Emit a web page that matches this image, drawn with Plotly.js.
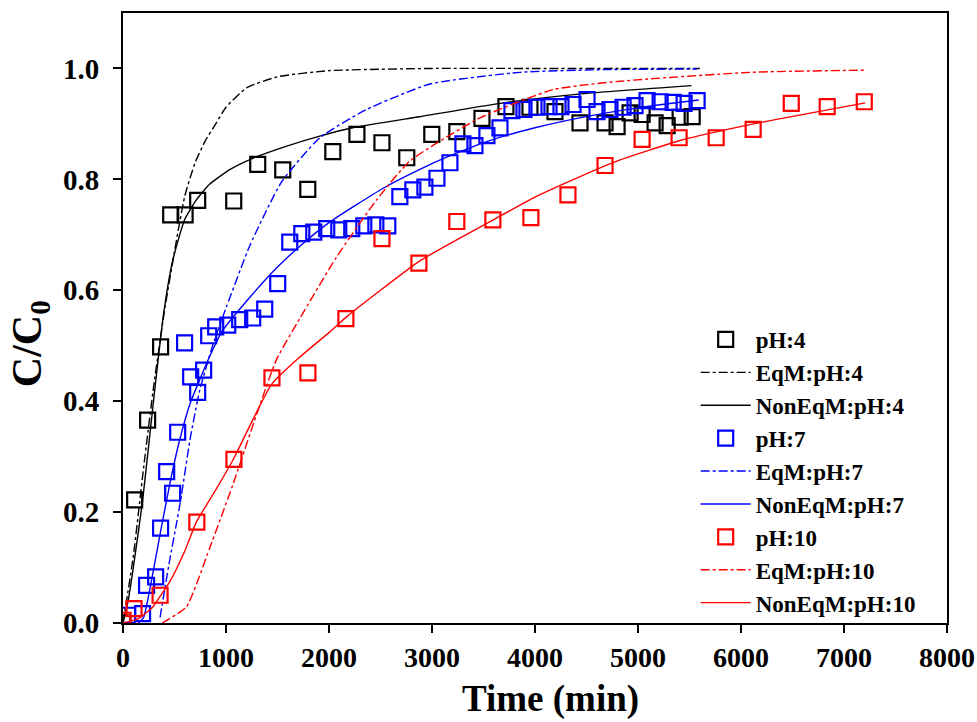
<!DOCTYPE html>
<html>
<head>
<meta charset="utf-8">
<script src="https://cdn.plot.ly/plotly-3.0.1.min.js"></script>
<style>html,body{margin:0;padding:0;background:#fff;}#chart{width:977px;height:722px;}</style>
</head>
<body>
<div id="chart"></div>
<script>
// Experimental data pH 4
const pH4_t = [0,113,239,365,463,603,725,1075,1308,1551,1794,2037,2271,2514,2755,2998,3241,3485,3718,3951,4194,4437,4680,4797,4923,5040,5166,5283,5409,5526];
const pH4_c = [0.0,0.222,0.366,0.498,0.736,0.736,0.762,0.761,0.827,0.817,0.782,0.850,0.881,0.866,0.839,0.881,0.886,0.910,0.931,0.930,0.922,0.902,0.902,0.895,0.920,0.917,0.902,0.897,0.912,0.913];
// Experimental data pH 7
const pH7_t = [45,190,229,317,365,424,482,531,598,657,725,783,832,900,1017,1133,1259,1376,1502,1619,1736,1852,1978,2095,2221,2338,2455,2571,2688,2814,2931,3048,3174,3300,3417,3533,3660,3776,3893,4019,4136,4252,4369,4505,4602,4728,4855,4971,5088,5215,5341,5448,5574];
const pH7_c = [0.014,0.017,0.068,0.083,0.171,0.273,0.234,0.344,0.505,0.444,0.416,0.456,0.518,0.534,0.537,0.547,0.550,0.566,0.612,0.687,0.702,0.705,0.711,0.709,0.711,0.716,0.718,0.716,0.769,0.781,0.786,0.802,0.830,0.864,0.861,0.879,0.893,0.924,0.926,0.930,0.931,0.931,0.935,0.944,0.922,0.926,0.930,0.933,0.942,0.940,0.939,0.937,0.942];
// Experimental data pH 10
const pH10_t = [0,107,360,717,1077,1446,1795,2164,2514,2873,3241,3591,3960,4320,4680,5040,5399,5759,6118,6488,6837,7197];
const pH10_c = [0.005,0.026,0.050,0.182,0.295,0.442,0.451,0.549,0.693,0.649,0.724,0.727,0.731,0.772,0.825,0.872,0.875,0.875,0.890,0.937,0.931,0.940];

// Model curves
const eq4_t = [0,100,200,300,400,500,600,700,800,900,1000,1200,1500,2000,3000,4000,5600];
const eq4_c = [0.0,0.12,0.28,0.43,0.56,0.67,0.77,0.83,0.87,0.90,0.93,0.965,0.985,0.996,1.0,1.0,1.0];
const neq4_t = [0,50,100,190,290,390,470,520,600,712,840,1040,1260,1590,1910,2230,2880,3660,4500,5520];
const neq4_c = [0.0,0.04,0.10,0.22,0.39,0.552,0.643,0.68,0.728,0.763,0.791,0.818,0.838,0.860,0.878,0.893,0.913,0.937,0.955,0.969];

const eq7_t = [360,450,520,567,650,745,870,1004,1230,1538,1911,2364,2980,3853,4700,5572];
const eq7_c = [0.01,0.11,0.18,0.23,0.33,0.42,0.50,0.57,0.68,0.795,0.875,0.926,0.972,0.993,0.998,0.999];
const neq7_t = [150,200,290,370,470,550,650,840,970,1230,1490,1720,2000,2526,2882,3142,3560,4000,4520,5000,5590];
const neq7_c = [0.0,0.01,0.09,0.17,0.265,0.33,0.395,0.48,0.528,0.587,0.64,0.68,0.722,0.784,0.818,0.840,0.870,0.893,0.914,0.929,0.943];

const eq10_t = [380,615,841,1068,1295,1490,1719,2073,2462,2785,3466,4178,4826,6089,7207];
const eq10_c = [0.0,0.029,0.135,0.25,0.375,0.475,0.55,0.66,0.763,0.833,0.911,0.962,0.977,0.993,0.997];
const neq10_t = [0,150,290,360,453,600,712,900,1068,1441,1719,2008,2170,2882,3595,4000,4438,4826,5409,6122,7207];
const neq10_c = [0.0,0.008,0.029,0.048,0.074,0.13,0.182,0.24,0.294,0.43,0.48,0.525,0.552,0.653,0.727,0.768,0.805,0.835,0.870,0.900,0.938];

const xTitle = 'Time (min)';
const yTitle = 'C/C<sub>0</sub>';

const BLACK = '#000000', BLUE = '#0000FF', RED = '#FF0000';
function pts(name, x, y, col, g) {
  return {x: x, y: y, name: name, type: 'scatter', mode: 'markers', legendgroup: g,
    marker: {symbol: 'square-open', size: 15, color: col, line: {width: 2.2, color: col}}};
}
function ln(name, x, y, col, dash, g) {
  return {x: x, y: y, name: name, type: 'scatter', mode: 'lines', legendgroup: g,
    line: {color: col, width: 1.4, dash: dash, shape: 'spline', smoothing: 0.5}};
}
const traces = [
  pts('pH:4', pH4_t, pH4_c, BLACK, 'a'),
  ln('EqM:pH:4', eq4_t, eq4_c, BLACK, 'dashdot', 'b'),
  ln('NonEqM:pH:4', neq4_t, neq4_c, BLACK, 'solid', 'c'),
  pts('pH:7', pH7_t, pH7_c, BLUE, 'd'),
  ln('EqM:pH:7', eq7_t, eq7_c, BLUE, 'dashdot', 'e'),
  ln('NonEqM:pH:7', neq7_t, neq7_c, BLUE, 'solid', 'f'),
  pts('pH:10', pH10_t, pH10_c, RED, 'g'),
  ln('EqM:pH:10', eq10_t, eq10_c, RED, 'dashdot', 'h'),
  ln('NonEqM:pH:10', neq10_t, neq10_c, RED, 'solid', 'i')
];
const F = 'Liberation Serif, Times New Roman, serif';
const layout = {
  width: 977, height: 722,
  margin: {l: 123, r: 30, t: 13, b: 99},
  paper_bgcolor: '#fff', plot_bgcolor: '#fff',
  font: {family: F, color: '#000', weight: 'bold'},
  showlegend: true,
  legend: {x: 0.695, y: 0.5, xanchor: 'left', yanchor: 'top', bgcolor: 'rgba(0,0,0,0)',
    itemwidth: 50,
    font: {family: F, size: 23, color: '#000', weight: 'bold'}, tracegroupgap: 0, traceorder: 'grouped'},
  xaxis: {range: [0, 8000], dtick: 1000, tick0: 0, showgrid: false, zeroline: false,
    showline: true, linewidth: 2, linecolor: '#000', mirror: true,
    ticks: 'outside', ticklen: 8, tickwidth: 2, tickcolor: '#000',
    tickfont: {family: F, size: 28, color: '#000', weight: 'bold'}},
  yaxis: {range: [0, 1.1], dtick: 0.2, tick0: 0, tickformat: '.1f', showgrid: false, zeroline: false,
    showline: true, linewidth: 2, linecolor: '#000', mirror: true,
    ticks: 'outside', ticklen: 8, tickwidth: 2, tickcolor: '#000', ticklabelstandoff: 8,
    tickfont: {family: F, size: 29, color: '#000', weight: 'bold'}},
  annotations: [
    {text: xTitle, xref: 'paper', yref: 'paper', x: 0.519, y: -0.124, xanchor: 'center', yanchor: 'middle',
      showarrow: false, font: {family: F, size: 37, color: '#000', weight: 'bold'}},
    {text: yTitle, xref: 'paper', yref: 'paper', x: -0.1134, y: 0.458, xanchor: 'center', yanchor: 'middle',
      textangle: -90, showarrow: false, font: {family: F, size: 42, color: '#000', weight: 'bold'}}
  ]
};
Plotly.newPlot('chart', traces, layout, {displayModeBar: false, staticPlot: true});
</script>
</body>
</html>
